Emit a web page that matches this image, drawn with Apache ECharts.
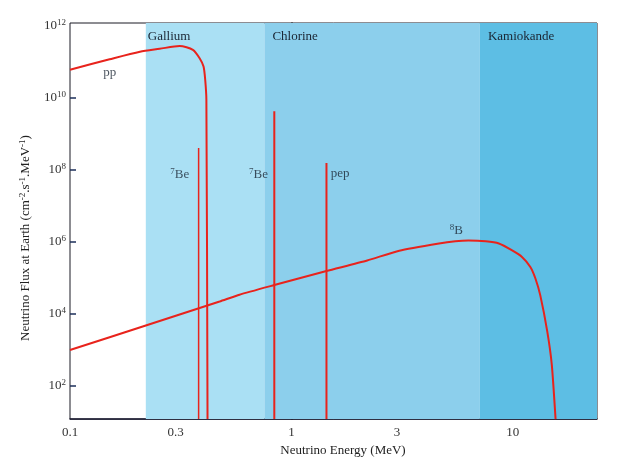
<!DOCTYPE html>
<html>
<head>
<meta charset="utf-8">
<script src="https://cdn.jsdelivr.net/npm/echarts@6/dist/echarts.min.js"></script>
<style>
html,body{margin:0;padding:0;background:#fff}
#chart{width:624px;height:462px}
</style>
</head>
<body>
<div id="chart"></div>
<script>
// axis ranges (MeV, cm-2 s-1 MeV-1)
var xMin = 0.1, xMax = 24;
var yMin = 11.5, yMax = 1.17e12;
var xTickValues = [0.1, 0.3, 1, 3, 10];
var xTickLabels = ['0.1', '0.3', '1', '3', '10'];
var yTickExponents = [2, 4, 6, 8, 10, 12];

// pp continuum
var ppEnergy = [0.1, 0.151, 0.207, 0.254, 0.313, 0.359, 0.385, 0.401, 0.408, 0.413, 0.418];
var ppFlux = [5.9e10, 1.15e11, 1.86e11, 2.24e11, 2.7e11, 2.1e11, 1.23e11, 7.2e10, 3.1e10, 8.7e9, 11.5];

// 8B continuum
var b8Energy = [0.1, 0.22, 0.474, 0.583, 0.837, 1.44, 2.2, 3.07, 4.64, 5.5, 6.3, 7.55, 8.65, 9.93, 11.0, 12.0, 12.65, 13.3, 14.3, 15.0, 15.6];
var b8Flux = [955, 4.6e3, 2.14e4, 3.3e4, 6.1e4, 1.5e5, 2.95e5, 5.5e5, 8.7e5, 1.0e6, 1.05e6, 1.0e6, 8.7e5, 5.6e5, 3.7e5, 1.95e5, 9.3e4, 3.2e4, 3.2e3, 370, 11.5];

// mono-energetic lines (7Be, 7Be, pep)
var lineEnergy = [0.381, 0.837, 1.44];
var lineFlux = [3.9e8, 4.1e9, 1.5e8];

// detector thresholds
var bandNames = ['Gallium', 'Chlorine', 'Kamiokande'];
var bandStart = [0.22, 0.755, 7.1];
var bandEnd = [0.755, 7.1, 24];
var bandColors = ['#aae0f4', '#8ccfec', '#5dbee4'];

var serif = 'Liberation Serif';
var red = '#e8231c';
var ink = '#1a2533';

function initNeutrinoChart() {
    var chart = echarts.init(document.getElementById('chart'));

    var ppData = [];
    for (var i = 0; i < ppEnergy.length; i++) {
        ppData.push([ppEnergy[i], ppFlux[i]]);
    }
    var b8Data = [];
    for (var j = 0; j < b8Energy.length; j++) {
        b8Data.push([b8Energy[j], b8Flux[j]]);
    }

    var bandData = [];
    for (var k = 0; k < bandNames.length; k++) {
        bandData.push([
            {
                name: bandNames[k],
                xAxis: bandStart[k],
                yAxis: yMax,
                itemStyle: { color: bandColors[k] },
                label: { offset: [k == 0 ? 2 : 8, 7] }
            },
            { xAxis: bandEnd[k], yAxis: yMin }
        ]);
    }

    var series = [{
        name: 'bands',
        type: 'line',
        z: -1,
        data: [],
        silent: true,
        markArea: {
            silent: true,
            itemStyle: { opacity: 1 },
            label: {
                show: true,
                position: 'insideTopLeft',
                distance: 0,
                color: ink,
                fontFamily: serif,
                fontSize: 13
            },
            data: bandData
        }
    }, {
        name: 'pp',
        type: 'line',
        data: ppData,
        symbol: 'none',
        smooth: 0.25,
        lineStyle: { color: red, width: 2 },
        z: 3
    }, {
        name: '8B',
        type: 'line',
        data: b8Data,
        symbol: 'none',
        smooth: 0.2,
        lineStyle: { color: red, width: 2 },
        z: 3
    }];

    for (var m = 0; m < lineEnergy.length; m++) {
        series.push({
            name: 'line' + m,
            type: 'line',
            data: [[lineEnergy[m], yMin], [lineEnergy[m], lineFlux[m]]],
            symbol: 'none',
            lineStyle: { color: red, width: m == 0 ? 1.5 : 2 },
            z: 3
        });
    }

    // text annotations
    var rich = {
        b: { fontFamily: serif, fontSize: 13, color: ink },
        s: { fontFamily: serif, fontSize: 9, color: ink, padding: [0, 0, 6, 0] }
    };
    series.push({
        name: 'notes',
        type: 'scatter',
        symbolSize: 0,
        silent: true,
        z: 4,
        label: {
            show: true,
            position: 'inside',
            formatter: function (p) { return p.data.text; },
            rich: rich
        },
        data: [
            { value: [0.151, 5.0e10], text: '{b|pp}' },
            { value: [0.313, 7e7], text: '{s|7}{b|Be}' },
            { value: [0.71, 7e7], text: '{s|7}{b|Be}' },
            { value: [1.66, 7.5e7], text: '{b|pep}' },
            { value: [5.56, 2.0e6], text: '{s|8}{b|B}' }
        ]
    });

    chart.setOption({
        animation: false,
        grid: {
            left: 70,
            top: 23,
            right: 27,
            bottom: 42,
            show: true,
            borderColor: '#1a1a24',
            borderWidth: 1,
            backgroundColor: 'transparent'
        },
        xAxis: [{
            type: 'log',
            logBase: 10,
            min: xMin,
            max: xMax,
            position: 'bottom',
            axisLine: { show: true, lineStyle: { color: '#1a1a30', width: 1.5 } },
            axisTick: { show: false },
            axisLabel: { show: false },
            splitLine: { show: false }
        }, {
            type: 'value',
            min: Math.log10(xMin),
            max: Math.log10(xMax),
            position: 'bottom',
            axisLine: { show: false },
            splitLine: { show: false },
            axisTick: {
                show: true,
                inside: true,
                length: 5,
                lineStyle: { color: '#1c2f5a', width: 1.5 },
                customValues: xTickValues.slice(1).map(function (v) { return Math.log10(v); })
            },
            axisLabel: {
                show: true,
                margin: 7,
                color: '#333',
                fontFamily: serif,
                fontSize: 13,
                customValues: xTickValues.map(function (v) { return Math.log10(v); }),
                formatter: function (value) {
                    var best = 0;
                    for (var i = 0; i < xTickValues.length; i++) {
                        if (Math.abs(Math.log10(xTickValues[i]) - value) < Math.abs(Math.log10(xTickValues[best]) - value)) {
                            best = i;
                        }
                    }
                    return xTickLabels[best];
                }
            },
            name: 'Neutrino Energy (MeV)',
            nameLocation: 'middle',
            nameGap: 21,
            nameTextStyle: {
                fontFamily: serif,
                fontSize: 13,
                color: '#222',
                padding: [0, 0, 0, 19]
            }
        }],
        yAxis: [{
            type: 'log',
            logBase: 10,
            min: yMin,
            max: yMax,
            position: 'left',
            axisLine: { show: true, lineStyle: { color: '#111', width: 1.5 } },
            axisTick: { show: false },
            axisLabel: { show: false },
            splitLine: { show: false }
        }, {
            type: 'value',
            min: Math.log10(yMin),
            max: Math.log10(yMax),
            position: 'left',
            axisLine: { show: false },
            splitLine: { show: false },
            axisTick: {
                show: true,
                inside: true,
                length: 6,
                lineStyle: { color: '#1c2f5a', width: 1.5 },
                customValues: yTickExponents.slice(0, yTickExponents.length - 1)
            },
            axisLabel: {
                show: true,
                margin: 4,
                customValues: yTickExponents,
                formatter: function (value) {
                    return '{b|10}{s|' + Math.round(value) + '}';
                },
                rich: {
                    b: { fontFamily: serif, fontSize: 13, color: '#333' },
                    s: { fontFamily: serif, fontSize: 9, color: '#333', padding: [0, 0, 6, 0] }
                }
            },
            name: '{b|Neutrino Flux at Earth (cm}{s|-2}{b|.s}{s|-1}{b|.MeV}{s|-1}{b|)}',
            nameLocation: 'middle',
            nameGap: 37,
            nameTextStyle: {
                padding: [0, 34, 0, 0],
                rich: {
                    b: { fontFamily: serif, fontSize: 13, color: '#222' },
                    s: { fontFamily: serif, fontSize: 9, color: '#222', padding: [0, 0, 6, 0] }
                }
            }
        }],
        series: series
    });

    return chart;
}

initNeutrinoChart();
</script>
</body>
</html>
